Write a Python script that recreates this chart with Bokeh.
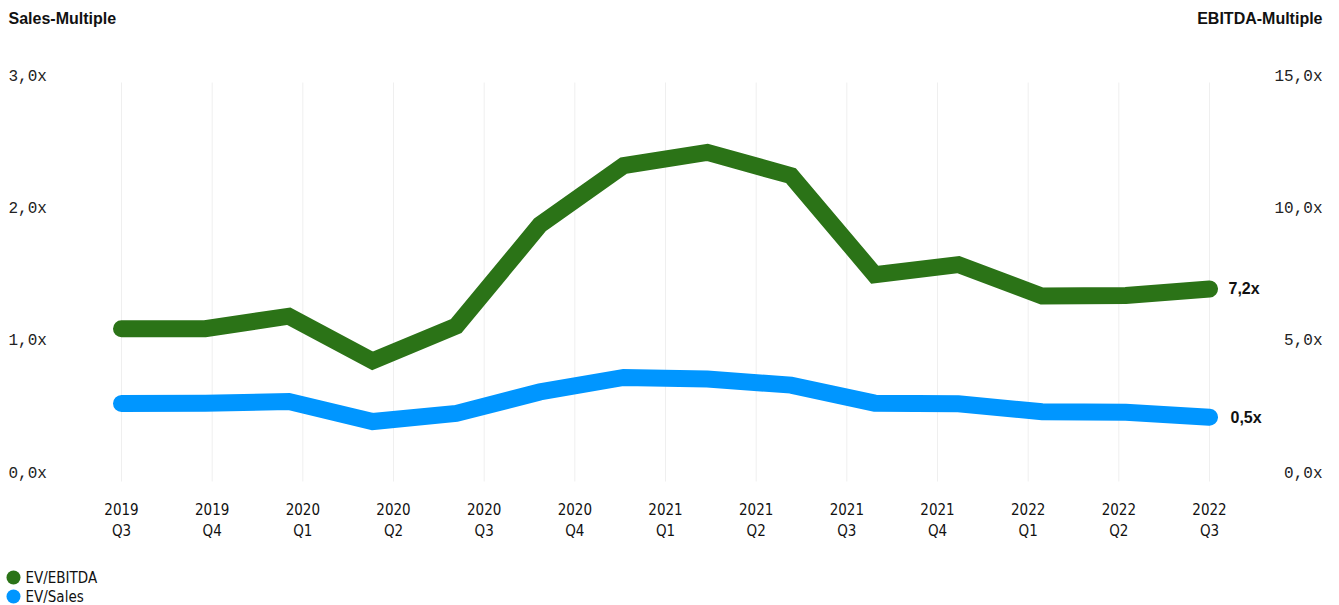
from bokeh.plotting import figure
from bokeh.models import Range1d
from bokeh.core.properties import value
from bokeh.embed import file_html
from bokeh.resources import INLINE

# ---------------- data ----------------
quarters = ["2019\nQ3", "2019\nQ4", "2020\nQ1", "2020\nQ2", "2020\nQ3", "2020\nQ4",
            "2021\nQ1", "2021\nQ2", "2021\nQ3", "2021\nQ4", "2022\nQ1", "2022\nQ2", "2022\nQ3"]
ev_ebitda = [5.70, 5.70, 6.17, 4.48, 5.80, 9.62, 11.86, 12.36, 11.48, 7.74, 8.12, 6.93, 6.95, 7.20]
ev_sales = [0.575, 0.576, 0.590, 0.438, 0.499, 0.662, 0.771, 0.759, 0.713, 0.577, 0.573, 0.512, 0.509, 0.471]
sales_ticks = [0, 1, 2, 3]
sales_tick_labels = ["0,0x", "1,0x", "2,0x", "3,0x"]
ebitda_ticks = [0, 5, 10, 15]
ebitda_tick_labels = ["0,0x", "5,0x", "10,0x", "15,0x"]
last_ebitda_label = "7,2x"
last_sales_label = "0,5x"
series_names = ["EV/EBITDA", "EV/Sales"]
title_left = "Sales-Multiple"
title_right = "EBITDA-Multiple"

GREEN = "#2b7317"
BLUE = "#0096ff"
LABEL_FONT = value("'Liberation Sans Narrow', 'DejaVu Sans Condensed', 'Roboto Condensed', Roboto")

# ---------------- layout geometry (canvas pixels) ----------------
W, H = 1339, 605
PX0, PX1 = 121, 1209          # canvas x of first / last data point
n_pts = len(ev_sales)
PX_PER = (PX1 - PX0) / (n_pts - 1)
Y0, Y3 = 479, 82              # canvas y of 0 and 3 on the sales scale
PY_PER = (Y0 - Y3) / 3.0


def dx(cx):
    return (cx - PX0) / PX_PER


def dy(cy):
    return (Y0 - cy) / PY_PER


x_start, x_end = dx(0), dx(W)
y_start, y_end = dy(H), dy(0)
ratio = 15.0 / 3.0

p = figure(width=W, height=H, output_backend="svg", toolbar_location=None,
           x_range=Range1d(x_start, x_end), y_range=Range1d(y_start, y_end),
           x_axis_location=None, y_axis_location=None, title=None,
           min_border=0, outline_line_color=None)
p.extra_y_ranges = {"ebitda": Range1d(y_start * ratio, y_end * ratio)}
p.grid.visible = False
p.background_fill_color = "white"
p.border_fill_color = "white"

idx = list(range(n_pts))
n_lab = len(quarters)
tick_pos = [k * (n_pts - 1) / (n_lab - 1) for k in range(n_lab)]

# vertical gridlines
p.segment(x0=tick_pos, y0=[dy(Y0 + 2)] * n_lab, x1=tick_pos, y1=[3] * n_lab,
          line_color="#efefef", line_width=1)

# series lines
p.line(idx, ev_sales, line_color=BLUE, line_width=17, line_cap="round", line_join="miter")
p.line(idx, ev_ebitda, line_color=GREEN, line_width=17, line_cap="round", line_join="miter",
       y_range_name="ebitda")

# end labels
p.text(x=[idx[-1]], y=[ev_ebitda[-1]], text=[last_ebitda_label], y_range_name="ebitda",
       x_offset=19, text_font=value("Liberation Sans"), text_font_style="bold",
       text_font_size="16px", text_baseline="middle", text_align="left", text_color="#111111")
p.text(x=[idx[-1]], y=[ev_sales[-1]], text=[last_sales_label],
       x_offset=21, text_font=value("Liberation Sans"), text_font_style="bold",
       text_font_size="16px", text_baseline="middle", text_align="left", text_color="#111111")

# y tick labels
p.text(x=[dx(8)] * len(sales_ticks), y=sales_ticks, text=sales_tick_labels, y_offset=-6,
       text_font=value("Liberation Mono"), text_font_size="16px", text_baseline="middle",
       text_align="left", text_color="#222222")
p.text(x=[dx(1322)] * len(ebitda_ticks), y=ebitda_ticks, text=ebitda_tick_labels, y_offset=-6,
       y_range_name="ebitda", text_font=value("Liberation Mono"), text_font_size="16px",
       text_baseline="middle", text_align="right", text_color="#222222")

# x tick labels
years = [q.split("\n")[0] for q in quarters]
qs = [q.split("\n")[1] for q in quarters]
p.text(x=tick_pos, y=[0] * n_lab, text=years, y_offset=29,
       text_font=LABEL_FONT, text_font_size="15px",
       text_baseline="middle", text_align="center", text_color="#111111")
p.text(x=tick_pos, y=[0] * n_lab, text=qs, y_offset=51,
       text_font=LABEL_FONT, text_font_size="15px",
       text_baseline="middle", text_align="center", text_color="#111111")

# titles
p.text(x=[dx(8)], y=[dy(18)], text=[title_left], text_font=value("Liberation Sans"),
       text_font_style="bold", text_font_size="16px", text_baseline="middle",
       text_align="left", text_color="#111111")
p.text(x=[dx(1322)], y=[dy(18)], text=[title_right], text_font=value("Liberation Sans"),
       text_font_style="bold", text_font_size="16px", text_baseline="middle",
       text_align="right", text_color="#111111")

# legend
p.scatter(x=[dx(13), dx(13)], y=[dy(577), dy(596)], size=14, marker="circle",
          fill_color=[GREEN, BLUE], line_color=None)
p.text(x=[dx(25), dx(25)], y=[dy(577), dy(596)], text=series_names,
       text_font=LABEL_FONT, text_font_size="15px",
       text_baseline="middle", text_align="left", text_color="#111111")

open("out.html", "w").write(file_html(p, INLINE))
